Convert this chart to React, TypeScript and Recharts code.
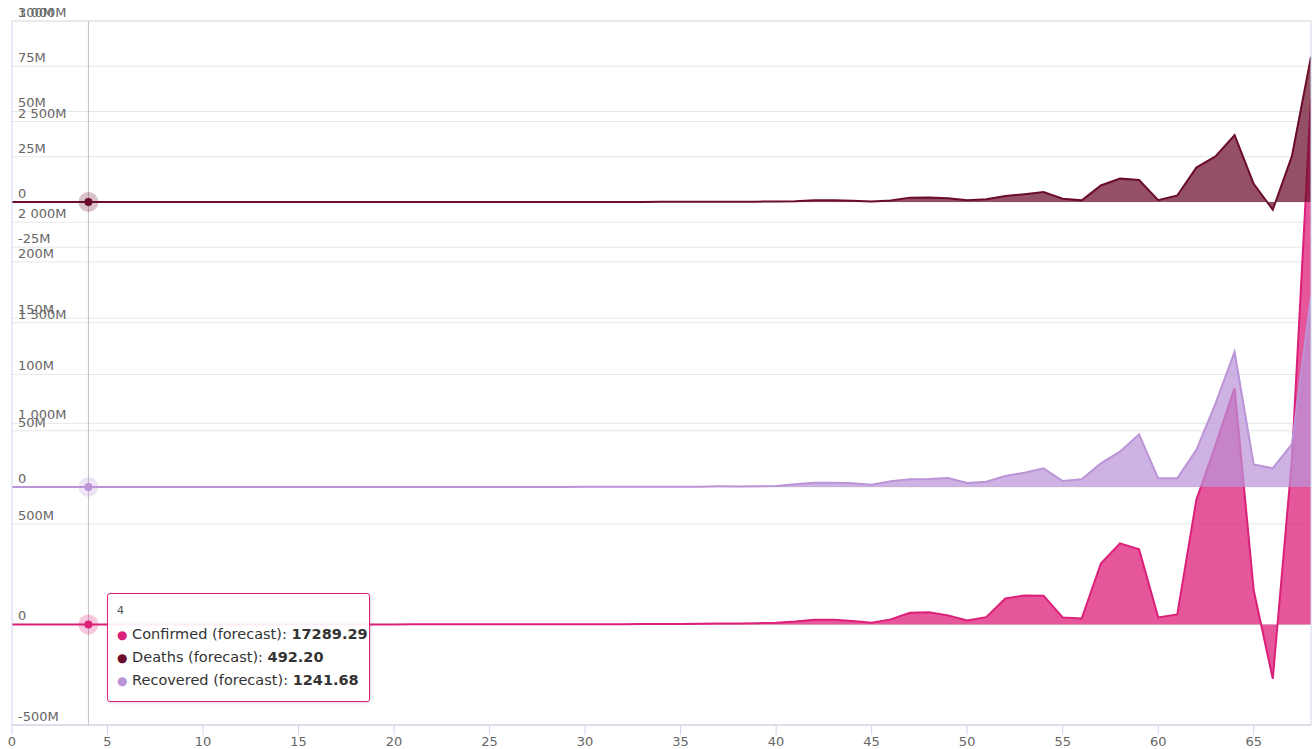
import { AreaChart, Area, XAxis, YAxis, CartesianGrid, Tooltip } from "recharts";

// daily forecast values, day 0..68
const confirmed = [
  5123.4, 8210.7, 11052.9, 14018.3, 17289.29, 21430.6, 26611.2, 31978.5, 38120.4, 45893.1,
  54016.8, 63411.9, 74102.5, 86290.7, 99870.2, 116200, 134900, 156300, 181700, 210400,
  245100, 284800, 331200, 385600, 448900, 522300, 607800, 706900, 822400, 956700,
  1113000, 1295000, 1507000, 1754000, 2041000, 2376000, 3100000, 5200000, 4800000, 6100000,
  8300000, 14500000, 23000000, 23500000, 17000000, 8000000, 25000000, 58000000, 61000000, 45000000,
  20000000, 36000000, 129000000, 144000000, 143000000, 35000000, 30000000, 303000000, 403000000, 373000000,
  35000000, 50000000, 620000000, 890000000, 1175000000, 170000000, -270000000, 820000000, 2620000000,
];

const deaths = [
  146.2, 233.5, 318.9, 402.7, 492.2, 611.4, 758.3, 921.6, 1102.8, 1318.5,
  1566.2, 1843.7, 2168.9, 2541.3, 2972.6, 3471, 4052, 4726, 5511, 6420,
  7478, 8704, 10130, 11790, 13710, 15950, 18550, 21570, 25080, 29160,
  33900, 39420, 45830, 53290, 61960, 72050, 95000, 160000, 150000, 190000,
  260000, 450000, 900000, 900000, 700000, 300000, 800000, 2400000, 2500000, 2000000,
  1000000, 1500000, 3300000, 4300000, 5500000, 1800000, 900000, 9100000, 12900000, 12100000,
  1000000, 3600000, 19000000, 25200000, 37000000, 10000000, -4300000, 25300000, 80300000,
];

const recovered = [
  372.5, 589.1, 806.4, 1023.8, 1241.68, 1540, 1910, 2330, 2790, 3340,
  3950, 4660, 5480, 6410, 7490, 8740, 10180, 11850, 13780, 16020,
  18610, 21620, 25110, 29160, 33860, 39310, 45630, 52970, 61480, 71350,
  82800, 96100, 111500, 129400, 150100, 174200, 240000, 520000, 480000, 610000,
  900000, 2500000, 3800000, 3800000, 3400000, 2000000, 5000000, 6800000, 7000000, 8000000,
  3500000, 4700000, 9800000, 12700000, 16600000, 5300000, 6800000, 21000000, 31400000, 46800000,
  7700000, 7700000, 33000000, 74000000, 120000000, 20000000, 16600000, 38000000, 169000000,
];

const xTicks = [0, 5, 10, 15, 20, 25, 30, 35, 40, 45, 50, 55, 60, 65];
const confirmedTicks = [-500e6, 0, 500e6, 1000e6, 1500e6, 2000e6, 2500e6, 3000e6];
const deathsTicks = [-25e6, 0, 25e6, 50e6, 75e6, 100e6];
const recoveredTicks = [0, 50e6, 100e6, 150e6, 200e6];

const data = confirmed.map((c, i) => ({
  day: i,
  confirmed: c,
  deaths: deaths[i],
  recovered: recovered[i],
}));

const COLORS: Record<string, string> = {
  confirmed: "#dc1f78",
  deaths: "#6b0d2a",
  recovered: "#bb94d8",
};

const NAMES: Record<string, string> = {
  confirmed: "Confirmed (forecast)",
  deaths: "Deaths (forecast)",
  recovered: "Recovered (forecast)",
};

const FONT = "DejaVu Sans";

function fmtM(v: number) {
  if (v === 0) return "0";
  const m = v / 1e6;
  return String(m).replace(/\B(?=(\d{3})+(?!\d))/g, " ") + "M";
}

const yTick = (props: any) => {
  const { y, payload } = props;
  return (
    <text x={18} y={y - 4} fill="#666" fontSize={13} fontFamily={FONT}>
      {fmtM(payload.value)}
    </text>
  );
};

function TipContent({ active, payload, label }: any) {
  if (!active || !payload || !payload.length) return null;
  return (
    <div
      style={{
        width: 263,
        boxSizing: "border-box",
        background: "rgba(255,255,255,0.92)",
        border: "1px solid " + COLORS.confirmed,
        borderRadius: 3,
        padding: "9px 6px 9px 9px",
        fontFamily: FONT,
        color: "#333",
        boxShadow: "1px 1px 3px rgba(0,0,0,0.15)",
      }}
    >
      <div style={{ fontSize: 11, lineHeight: "16px", marginBottom: 4, color: "#555" }}>{label}</div>
      {payload.map((p: any) => (
        <div key={p.dataKey} style={{ fontSize: 14.5, lineHeight: "22px", whiteSpace: "nowrap" }}>
          <span style={{ color: COLORS[p.dataKey], fontSize: 12 }}>●</span>{" "}
          {NAMES[p.dataKey]}: <b>{Number(p.value).toFixed(2)}</b>
        </div>
      ))}
    </div>
  );
}

function makeDot(color: string) {
  return (props: any) => (
    <g>
      <circle cx={props.cx} cy={props.cy} r={10} fill={color} fillOpacity={0.25} />
      <circle cx={props.cx} cy={props.cy} r={4} fill={color} />
    </g>
  );
}

export default function App() {
  return (
    <div style={{ position: "absolute", left: 0, top: 0, background: "#fff" }}>
      <AreaChart
        width={1313}
        height={749}
        data={data}
        margin={{ top: 21, right: 1, bottom: 0, left: 9 }}
        style={{ fontFamily: FONT }}
      >
        <CartesianGrid yAxisId="confirmed" vertical={false} stroke="#e6e6e6" />
        <CartesianGrid yAxisId="deaths" vertical={false} stroke="#e6e6e6" />
        <CartesianGrid yAxisId="recovered" vertical={false} stroke="#e6e6e6" />
        <XAxis
          dataKey="day"
          type="number"
          domain={[0, 68]}
          ticks={xTicks}
          interval={0}
          allowDataOverflow
          height={24}
          tickSize={10}
          tickMargin={2}
          axisLine={{ stroke: "#ccd6eb" }}
          tickLine={{ stroke: "#ccd6eb" }}
          tick={{ fill: "#666", fontSize: 13, fontFamily: FONT }}
        />
        <YAxis
          yAxisId="deaths"
          width={1}
          domain={[-289e6, 100e6]}
          ticks={deathsTicks}
          interval={0}
          allowDataOverflow
          axisLine={false}
          tickLine={false}
          tick={yTick}
        />
        <YAxis
          yAxisId="recovered"
          width={1}
          domain={[-211.6e6, 414.2e6]}
          ticks={recoveredTicks}
          interval={0}
          allowDataOverflow
          axisLine={false}
          tickLine={false}
          tick={yTick}
        />
        <YAxis
          yAxisId="confirmed"
          width={1}
          domain={[-500e6, 3000e6]}
          ticks={confirmedTicks}
          interval={0}
          allowDataOverflow
          axisLine={{ stroke: "#ccd6eb" }}
          tickLine={false}
          tick={yTick}
        />
        <YAxis
          yAxisId="edge"
          orientation="right"
          width={1}
          tick={false}
          tickLine={false}
          axisLine={{ stroke: "#ccd6eb" }}
        />
        <Tooltip
          defaultIndex={4}
          position={{ x: 107, y: 593 }}
          isAnimationActive={false}
          cursor={{ stroke: "#c0c0c0", strokeWidth: 1 }}
          content={<TipContent />}
          wrapperStyle={{ outline: "none" }}
        />
        <Area
          yAxisId="confirmed"
          type="linear"
          dataKey="confirmed"
          name={NAMES.confirmed}
          stroke={COLORS.confirmed}
          strokeWidth={2}
          fill={COLORS.confirmed}
          fillOpacity={0.75}
          dot={false}
          activeDot={makeDot(COLORS.confirmed)}
          isAnimationActive={false}
        />
        <Area
          yAxisId="deaths"
          type="linear"
          dataKey="deaths"
          name={NAMES.deaths}
          stroke={COLORS.deaths}
          strokeWidth={2}
          fill={COLORS.deaths}
          fillOpacity={0.72}
          dot={false}
          activeDot={makeDot(COLORS.deaths)}
          isAnimationActive={false}
        />
        <Area
          yAxisId="recovered"
          type="linear"
          dataKey="recovered"
          name={NAMES.recovered}
          stroke={COLORS.recovered}
          strokeWidth={2}
          fill={COLORS.recovered}
          fillOpacity={0.72}
          dot={false}
          activeDot={makeDot(COLORS.recovered)}
          isAnimationActive={false}
        />
      </AreaChart>
    </div>
  );
}
